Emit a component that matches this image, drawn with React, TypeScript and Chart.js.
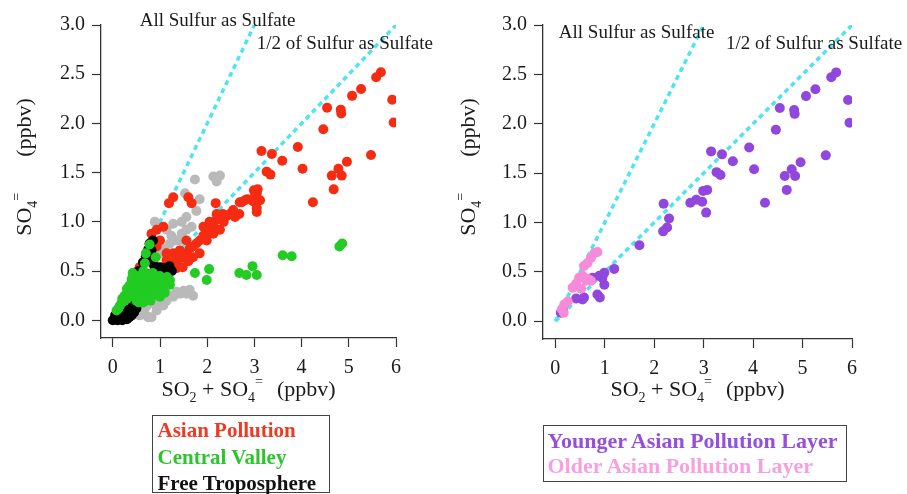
import React, { useEffect, useRef } from 'react';
import { Chart, registerables } from 'chart.js';
Chart.register(...registerables);

// ---------- axis ticks ----------
const xTicks = [0, 1, 2, 3, 4, 5, 6];
const yTicks = [0, 0.5, 1.0, 1.5, 2.0, 2.5, 3.0];

// ---------- reference lines ----------
const allSulfurLine: [number, number][] = [[0, 0], [3, 3]];
const halfSulfurLine: [number, number][] = [[0, 0], [6, 3]];

// ---------- left panel series ----------
const otherData: [number, number][] = [
  [1.74, 1.43], [2.13, 1.46], [2.27, 1.47], [2.2, 1.41], [1.53, 1.29], [1.84, 1.23], [1.77, 1.11],
  [1.56, 1.05], [1.46, 1.0], [1.28, 0.98], [1.14, 0.92], [1.24, 0.86], [1.35, 0.81], [1.21, 0.78],
  [1.1, 0.73], [1.03, 0.68], [1.56, 0.92], [1.46, 0.88], [1.67, 0.95], [1.0, 0.95], [0.89, 1.0],
  [1.42, 0.81], [1.63, 0.31], [1.7, 0.25], [1.56, 0.27], [1.35, 0.29], [1.21, 0.25], [1.14, 0.2],
  [1.0, 0.19], [0.86, 0.17], [0.71, 0.14], [0.64, 0.1], [0.75, 0.03], [0.82, 0.03], [0.57, 0.05],
  [0.5, 0.07], [0.43, 0.1], [0.93, 0.1], [1.07, 0.15], [1.28, 0.24], [1.42, 0.27], [0.93, 0.44],
  [1.07, 0.41], [1.14, 0.27], [0.68, 0.06], [0.6, 0.12], [1.5, 0.3],
];

const asianPollution: [number, number][] = [
  [5.68, 2.52], [5.58, 2.47], [5.92, 2.24], [5.95, 2.01], [5.26, 2.35], [5.07, 2.28], [4.54, 2.16],
  [4.83, 2.14], [4.84, 2.1], [4.46, 1.94], [5.47, 1.68], [4.96, 1.61], [4.78, 1.54], [4.64, 1.47],
  [4.85, 1.47], [4.68, 1.33], [4.24, 1.2], [3.92, 1.76], [4.02, 1.54], [3.59, 1.62], [3.37, 1.69],
  [3.15, 1.72], [3.26, 1.51], [3.34, 1.48], [3.07, 1.33], [2.99, 1.32], [2.97, 1.21], [2.85, 1.23],
  [2.73, 1.2], [3.05, 1.1], [1.28, 1.25], [1.19, 1.19], [1.6, 1.25], [1.67, 1.19], [2.18, 1.19],
  [2.69, 1.2], [3.05, 1.29], [2.98, 1.24], [3.12, 1.22], [3.05, 1.14], [2.8, 1.22], [2.48, 1.08],
  [2.33, 1.08], [2.68, 1.08], [2.59, 1.05], [2.41, 1.06], [2.2, 1.02], [2.13, 0.95], [2.06, 0.92],
  [1.99, 0.88], [1.92, 0.86], [1.84, 0.81], [1.77, 0.78], [1.7, 0.75], [1.63, 0.73], [1.56, 0.68],
  [1.49, 0.64], [1.42, 0.63], [1.35, 0.61], [1.28, 0.58], [1.21, 0.58], [1.14, 0.54], [1.07, 0.54],
  [1.0, 0.51], [0.93, 0.49], [2.13, 0.88], [1.99, 0.81], [1.56, 0.81], [1.42, 0.71], [1.28, 0.68],
  [1.14, 0.61], [1.0, 0.81], [0.93, 0.92], [1.07, 0.95], [0.93, 0.75], [0.78, 0.68], [0.64, 0.58],
  [0.57, 0.54], [0.5, 0.49], [1.14, 0.68], [1.92, 0.95], [2.27, 0.92], [1.48, 0.54], [1.35, 0.53],
  [1.7, 0.64], [1.84, 0.68], [2.2, 1.08], [2.55, 1.12], [0.82, 0.88], [0.86, 0.81], [0.86, 0.58],
  [0.75, 0.47], [0.86, 0.26], [1.24, 0.51], [2.35, 1.0], [2.05, 1.0], [1.6, 0.6],
];

const freeTroposphere: [number, number][] = [
  [0.0, 0.0], [0.05, 0.01], [0.1, 0.0], [0.15, 0.02], [0.2, 0.0], [0.25, 0.02], [0.3, 0.01],
  [0.35, 0.03], [0.4, 0.05], [0.05, 0.05], [0.1, 0.07], [0.2, 0.1], [0.3, 0.12], [0.4, 0.15],
  [0.5, 0.18], [0.55, 0.22], [0.6, 0.25], [0.65, 0.3], [0.7, 0.33], [0.75, 0.38], [0.8, 0.42],
  [0.85, 0.45], [0.9, 0.48], [0.96, 0.48], [1.0, 0.54], [1.06, 0.51], [1.12, 0.48], [1.17, 0.49],
  [1.2, 0.55], [1.1, 0.53], [0.95, 0.52], [0.88, 0.55], [0.82, 0.6], [0.64, 0.59], [0.7, 0.65],
  [0.75, 0.72], [0.82, 0.71], [0.85, 0.81], [0.78, 0.78], [0.3, 0.25], [0.2, 0.18], [0.25, 0.22],
  [0.45, 0.35], [0.4, 0.38], [0.5, 0.45], [0.55, 0.5], [0.35, 0.3], [1.25, 0.5], [0.95, 0.42],
  [1.05, 0.44], [0.9, 0.38], [0.45, 0.08], [0.5, 0.12], [0.35, 0.08], [0.25, 0.07], [0.49, 0.13],
];

const centralValley: [number, number][] = [
  [0.08, 0.1], [0.12, 0.12], [0.15, 0.15], [0.2, 0.18], [0.2, 0.22], [0.25, 0.2], [0.25, 0.25],
  [0.3, 0.22], [0.3, 0.28], [0.3, 0.32], [0.35, 0.25], [0.35, 0.3], [0.35, 0.35], [0.4, 0.25],
  [0.4, 0.3], [0.4, 0.35], [0.4, 0.42], [0.45, 0.28], [0.45, 0.33], [0.45, 0.4], [0.5, 0.25],
  [0.5, 0.3], [0.5, 0.35], [0.5, 0.42], [0.55, 0.28], [0.55, 0.35], [0.55, 0.4], [0.6, 0.22],
  [0.6, 0.3], [0.6, 0.38], [0.65, 0.25], [0.65, 0.32], [0.7, 0.28], [0.7, 0.35], [0.75, 0.3],
  [0.75, 0.38], [0.8, 0.32], [0.85, 0.3], [0.85, 0.42], [0.9, 0.35], [0.95, 0.28], [1.0, 0.24],
  [0.62, 0.45], [0.68, 0.58], [0.7, 0.68], [0.78, 0.77], [0.91, 0.64], [0.42, 0.48], [0.5, 0.2],
  [0.55, 0.18], [0.7, 0.22], [0.8, 0.25], [1.21, 0.41], [1.21, 0.36], [1.15, 0.44],
  [0.9, 0.45], [0.95, 0.4], [1.0, 0.35], [1.05, 0.3], [1.1, 0.38], [1.0, 0.45], [0.85, 0.48],
  [0.75, 0.45], [0.65, 0.5], [0.55, 0.45], [1.1, 0.28], [0.9, 0.28], [0.8, 0.2], [0.65, 0.18],
  [1.74, 0.48], [1.99, 0.41], [2.04, 0.52], [2.68, 0.48], [2.83, 0.46], [2.96, 0.55], [3.05, 0.46],
  [3.6, 0.66], [3.79, 0.65], [4.8, 0.75], [4.86, 0.78],
];

// ---------- right panel series ----------
const youngerLayer: [number, number][] = [
  [5.68, 2.52], [5.58, 2.47], [5.92, 2.24], [5.95, 2.01], [5.26, 2.35], [5.07, 2.28], [4.54, 2.16],
  [4.83, 2.14], [4.84, 2.1], [4.46, 1.94], [5.47, 1.68], [4.96, 1.61], [4.78, 1.54], [4.64, 1.47],
  [4.85, 1.47], [4.68, 1.33], [4.24, 1.2], [3.92, 1.76], [4.02, 1.54], [3.59, 1.62], [3.37, 1.69],
  [3.15, 1.72], [3.26, 1.51], [3.34, 1.48], [3.07, 1.33], [2.99, 1.32], [2.97, 1.21], [2.85, 1.23],
  [2.73, 1.2], [3.05, 1.1], [2.19, 1.19], [2.3, 1.04], [2.26, 0.95], [2.18, 0.91], [1.7, 0.77],
  [1.19, 0.53], [0.99, 0.49], [0.89, 0.46], [0.75, 0.44], [0.65, 0.42], [0.99, 0.37], [0.85, 0.27],
  [0.9, 0.24], [0.58, 0.24], [0.42, 0.23], [0.55, 0.22], [0.15, 0.12], [0.11, 0.085], [0.95, 0.44],
];

const olderLayer: [number, number][] = [
  [0.85, 0.7], [0.79, 0.69], [0.72, 0.64], [0.65, 0.59], [0.58, 0.56], [0.48, 0.44], [0.55, 0.46],
  [0.65, 0.43], [0.72, 0.41], [0.42, 0.38], [0.35, 0.34], [0.52, 0.33], [0.25, 0.2], [0.18, 0.17],
  [0.13, 0.12], [0.17, 0.085], [0.62, 0.41],
];

const FONT = '"Liberation Serif", "Times New Roman", serif';
const CYAN = '#4fe4f0';

type Seg = [string, 'n' | 'sub' | 'sup' | 'gap'];
const xTitle: Seg[] = [['SO', 'n'], ['2', 'sub'], [' + SO', 'n'], ['4', 'sub'], ['=', 'sup'], ['14', 'gap'], ['(ppbv)', 'n']];
const yTitle: Seg[] = [['SO', 'n'], ['4', 'sub'], ['=', 'sup'], ['36', 'gap'], ['(ppbv)', 'n']];

function drawRich(ctx: CanvasRenderingContext2D, segs: Seg[], size: number) {
  const big = `${size}px ${FONT}`;
  const small = `${Math.round(size * 0.62)}px ${FONT}`;
  const parts = segs.map(([t, k]) => {
    if (k === 'gap') return { t: '', k, w: Number(t) };
    ctx.font = k === 'n' ? big : small;
    return { t, k, w: ctx.measureText(t).width };
  });
  const total = parts.reduce((s, p) => s + p.w, 0);
  let x = -total / 2;
  ctx.textBaseline = 'alphabetic';
  ctx.textAlign = 'left';
  for (const p of parts) {
    if (p.k !== 'gap') {
      ctx.font = p.k === 'n' ? big : small;
      const dy = p.k === 'sub' ? size * 0.25 : p.k === 'sup' ? -size * 0.45 : 0;
      ctx.fillText(p.t, x, dy);
    }
    x += p.w;
  }
}

interface PanelCfg {
  labels: { text: string; x: number; y: number }[];
  yTitleX: number;
  yTitleCenter: number;
  xTitleBaseline: number;
}

function overlayPlugin(cfg: PanelCfg) {
  return {
    id: 'overlay',
    afterDraw(chart: any) {
      const ctx: CanvasRenderingContext2D = chart.ctx;
      const xs = chart.scales.x;
      const ys = chart.scales.y;
      ctx.save();
      ctx.fillStyle = '#1a1a1a';
      ctx.font = `19px ${FONT}`;
      ctx.textAlign = 'left';
      ctx.textBaseline = 'alphabetic';
      for (const l of cfg.labels) {
        ctx.fillText(l.text, xs.getPixelForValue(l.x), ys.getPixelForValue(l.y));
      }
      ctx.save();
      ctx.translate((chart.chartArea.left + chart.chartArea.right) / 2, cfg.xTitleBaseline);
      drawRich(ctx, xTitle, 22);
      ctx.restore();
      ctx.save();
      ctx.translate(cfg.yTitleX, cfg.yTitleCenter);
      ctx.rotate(-Math.PI / 2);
      drawRich(ctx, yTitle, 22);
      ctx.restore();
      ctx.restore();
    },
  };
}

function pts(a: [number, number][]) {
  return a.map(([x, y]) => ({ x, y }));
}

function scatterSet(label: string, data: [number, number][], color: string, order: number) {
  return {
    label,
    data: pts(data),
    backgroundColor: color,
    borderWidth: 0,
    pointRadius: 5,
    pointHoverRadius: 5,
    showLine: false,
    order,
  };
}

function lineSet(label: string, data: [number, number][]) {
  return {
    label,
    data: pts(data),
    borderColor: CYAN,
    borderWidth: 3.5,
    borderDash: [5, 4],
    pointRadius: 0,
    showLine: true,
    fill: false,
    order: 10,
  };
}

function makeScales(yWidth: number, xHeight: number) {
  const common = {
    type: 'linear' as const,
    grid: {
      display: true,
      drawOnChartArea: false,
      drawTicks: true,
      tickLength: 9,
      color: '#333',
      tickWidth: 1.2,
    },
    border: { display: true, color: '#333', width: 1.3 },
  };
  return {
    x: {
      ...common,
      min: -0.25,
      max: 6,
      afterBuildTicks: (s: any) => { s.ticks = xTicks.map((v) => ({ value: v })); },
      afterFit: (s: any) => { s.height = xHeight; },
      ticks: {
        font: { family: FONT, size: 20 },
        color: '#1a1a1a',
        padding: 9,
        maxRotation: 0,
        autoSkip: false,
        callback: (v: any) => String(v),
      },
    },
    y: {
      ...common,
      min: -0.18,
      max: 3.0,
      afterBuildTicks: (s: any) => { s.ticks = yTicks.map((v) => ({ value: v })); },
      afterFit: (s: any) => { s.width = yWidth; },
      ticks: {
        font: { family: FONT, size: 20 },
        color: '#1a1a1a',
        padding: 7,
        autoSkip: false,
        callback: (v: any) => Number(v).toFixed(1),
      },
    },
  };
}

function Panel(props: {
  left: number; width: number; datasets: any[]; yWidth: number; xHeight: number;
  padRight: number; cfg: PanelCfg;
}) {
  const ref = useRef<HTMLCanvasElement | null>(null);
  useEffect(() => {
    if (!ref.current) return;
    const chart = new Chart(ref.current, {
      type: 'scatter',
      data: { datasets: props.datasets },
      options: {
        animation: false,
        responsive: false,
        devicePixelRatio: 1,
        events: [],
        layout: { padding: { left: 0, top: 25, right: props.padRight, bottom: 0 } },
        plugins: { legend: { display: false }, tooltip: { enabled: false } },
        scales: makeScales(props.yWidth, props.xHeight) as any,
      },
      plugins: [overlayPlugin(props.cfg)],
    });
    return () => chart.destroy();
  }, []);
  return (
    <canvas
      ref={ref}
      width={props.width}
      height={494}
      style={{ position: 'absolute', left: props.left, top: 0, width: props.width, height: 494 }}
    />
  );
}

export default function App() {
  const leftSets = [
    lineSet('All Sulfur as Sulfate', allSulfurLine),
    lineSet('1/2 of Sulfur as Sulfate', halfSulfurLine),
    scatterSet('Other', otherData, '#b9b9b9', 4),
    scatterSet('Asian Pollution', asianPollution, '#f52c12', 3),
    scatterSet('Free Troposphere', freeTroposphere, '#000000', 2),
    scatterSet('Central Valley', centralValley, '#22cc22', 1),
  ];
  const rightSets = [
    lineSet('All Sulfur as Sulfate', allSulfurLine),
    lineSet('1/2 of Sulfur as Sulfate', halfSulfurLine),
    scatterSet('Younger Asian Pollution Layer', youngerLayer, '#9146dd', 2),
    scatterSet('Older Asian Pollution Layer', olderLayer, '#f78ad9', 1),
  ];
  const legendText = { fontFamily: FONT, fontWeight: 700 as const };
  return (
    <div style={{ position: 'absolute', left: 0, top: 0, width: 907, height: 494, background: '#fff', overflow: 'hidden' }}>
      <Panel
        left={0}
        width={450}
        datasets={leftSets}
        yWidth={101}
        xHeight={156}
        padRight={54}
        cfg={{
          labels: [
            { text: 'All Sulfur as Sulfate', x: 0.57, y: 2.99 },
            { text: '1/2 of Sulfur as Sulfate', x: 3.05, y: 2.76 },
          ],
          yTitleX: 31,
          yTitleCenter: 167,
          xTitleBaseline: 396,
        }}
      />
      <Panel
        left={450}
        width={457}
        datasets={rightSets}
        yWidth={93}
        xHeight={155}
        padRight={55}
        cfg={{
          labels: [
            { text: 'All Sulfur as Sulfate', x: 0.07, y: 2.87 },
            { text: '1/2 of Sulfur as Sulfate', x: 3.45, y: 2.76 },
          ],
          yTitleX: 25,
          yTitleCenter: 167,
          xTitleBaseline: 396,
        }}
      />
      <div
        style={{
          position: 'absolute', left: 152, top: 415, width: 178, height: 78, boxSizing: 'border-box',
          border: '1.5px solid #444', padding: '1px 0 0 4.5px', fontSize: 21, lineHeight: '26.5px',
          whiteSpace: 'nowrap', ...legendText,
        }}
      >
        <div style={{ color: '#ee3a22' }}>Asian Pollution</div>
        <div style={{ color: '#2ec42e' }}>Central Valley</div>
        <div style={{ color: '#111' }}>Free Troposphere</div>
      </div>
      <div
        style={{
          position: 'absolute', left: 543, top: 425, width: 304, height: 57, boxSizing: 'border-box',
          border: '1.5px solid #444', padding: '1.6px 0 0 3.5px', fontSize: 22, lineHeight: '25px',
          whiteSpace: 'nowrap', ...legendText,
        }}
      >
        <div style={{ color: '#9450dc' }}>Younger Asian Pollution Layer</div>
        <div style={{ color: '#f6a0e4' }}>Older Asian Pollution Layer</div>
      </div>
    </div>
  );
}
